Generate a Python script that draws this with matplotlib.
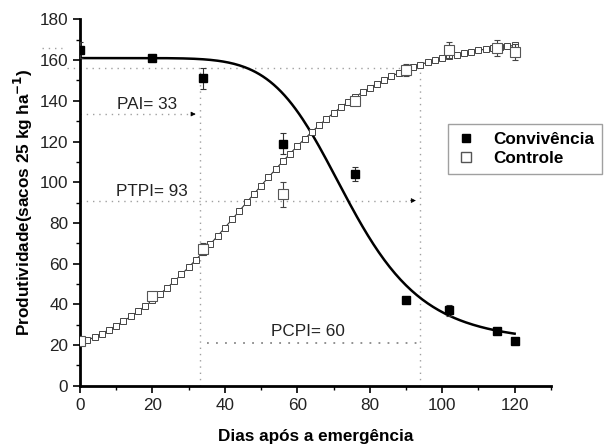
import numpy as np
import matplotlib
matplotlib.use("Agg")
import matplotlib.pyplot as plt

plt.rcParams['font.family'] = ['Liberation Sans', 'DejaVu Sans']

# Observed data
dias = [0, 20, 34, 56, 76, 90, 102, 115, 120]
conv = [165, 161, 151, 119, 104, 42, 37, 27, 22]
conv_err = [4, 1, 5, 5, 3.5, 1.5, 2.5, 1, 1.5]
ctrl = [22, 44, 67, 94, 140, 155, 165, 166, 164]
ctrl_err = [1, 2, 3, 6, 2, 3, 4, 4, 4]

# Fitted model parameters
conv_fit = dict(A1=161.0, A2=21.0, x0=74.0, p=7.0)      # log-logistic
ctrl_fit = dict(A1=5.0, A2=171.0, x0=45.0, dx=20.0)     # Boltzmann

# Critical periods
PAI, PTPI, PCPI_level = 33, 94, 21
y_pai, y_ptpi, y_top, y_max = 133.5, 91, 156, 166

xfit = np.linspace(0, 120, 241)
yconv = conv_fit['A2'] + (conv_fit['A1'] - conv_fit['A2']) / (1 + (xfit / conv_fit['x0']) ** conv_fit['p'])
xctrl = np.arange(0, 121, 2)
yctrl = ctrl_fit['A2'] + (ctrl_fit['A1'] - ctrl_fit['A2']) / (1 + np.exp((xctrl - ctrl_fit['x0']) / ctrl_fit['dx']))

FS = 12.3

fig = plt.figure(figsize=(6.04, 4.47), dpi=100)
ax = fig.add_axes([0.1325, 0.137, 0.7795, 0.8196])

dot = dict(color='#a0a0a0', lw=1.0, linestyle=(0, (1, 3.5)))
# reference dotted lines
ax.plot([-3.7, PTPI], [y_top, y_top], clip_on=False, **dot)
ax.plot([-10.5, -5], [y_max, y_max], clip_on=False, **dot)
ax.plot([0, PAI - 1], [y_pai, y_pai], **dot)
ax.plot([PAI, PAI], [0, y_top], **dot)
ax.plot([0, PTPI - 1.5], [y_ptpi, y_ptpi], **dot)
ax.plot([PTPI, PTPI], [0, y_top], **dot)
ax.plot([35, PTPI], [PCPI_level, PCPI_level], color='#888888', lw=1.3, linestyle=(0, (1, 4)))
# arrow heads
ax.annotate('', xy=(PAI - 0.3, y_pai), xytext=(PAI - 3, y_pai),
            arrowprops=dict(arrowstyle='-|>', color='black', lw=0.5, mutation_scale=7))
ax.annotate('', xy=(PTPI - 0.5, y_ptpi), xytext=(PTPI - 3.5, y_ptpi),
            arrowprops=dict(arrowstyle='-|>', color='black', lw=0.5, mutation_scale=7))

# fitted curves
ax.plot(xfit, yconv, color='black', lw=1.8, zorder=3)
ax.plot(xctrl, yctrl, color='#333333', lw=0.8, marker='s', markersize=4.0,
        markerfacecolor='white', markeredgecolor='#444444', markeredgewidth=0.7, zorder=3)

# observed points
ax.errorbar(dias, conv, yerr=conv_err, fmt='s', color='black', markersize=6,
            ecolor='#333333', elinewidth=0.8, capsize=2.5, capthick=0.8, zorder=5,
            label='Convivência')
ax.errorbar(dias, ctrl, yerr=ctrl_err, fmt='s', color='#444444', markersize=6.5,
            markerfacecolor='white', markeredgecolor='#555555', markeredgewidth=0.8,
            ecolor='#444444', elinewidth=0.8, capsize=2.5, capthick=0.8, zorder=4,
            label='Controle')

ax.text(18.5, 138, 'PAI= 33', fontsize=FS, ha='center', va='center', color='#222222')
ax.text(19.9, 95.3, 'PTPI= 93', fontsize=FS, ha='center', va='center', color='#222222')
ax.text(63, 26.5, 'PCPI= 60', fontsize=FS, ha='center', va='center', color='#222222')

ax.set_xlim(0, 130)
ax.set_ylim(0, 180)
ax.set_xticks(range(0, 121, 20))
ax.set_xticks(range(10, 131, 10), minor=True)
ax.set_yticks(range(0, 181, 20))
ax.set_yticks(range(10, 181, 10), minor=True)
ax.tick_params(which='major', direction='out', length=5, width=1.2, labelsize=FS,
               colors='black', labelcolor='#222222')
ax.tick_params(which='minor', direction='out', length=3, width=1.0)
for s in ['top', 'right']:
    ax.spines[s].set_visible(False)
for s in ['left', 'bottom']:
    ax.spines[s].set_linewidth(2.0)

ax.set_xlabel('Dias após a emergência', fontsize=FS, fontweight='bold', labelpad=12)
ax.set_ylabel('Produtividade(sacos 25 kg ha$^{\\mathbf{-1}}$)', fontsize=FS, fontweight='bold', labelpad=3)

handles = [plt.Line2D([], [], ls='none', marker='s', color='black', markersize=6),
           plt.Line2D([], [], ls='none', marker='s', markerfacecolor='white',
                      markeredgecolor='#555555', markersize=6.5)]
leg = ax.legend(handles, ['Convivência', 'Controle'], loc='upper left',
                bbox_to_anchor=(0.781, 0.7145), frameon=True, fancybox=False,
                prop=dict(weight='bold', size=FS), handlelength=1.2,
                borderpad=0.45, labelspacing=0.25, handletextpad=1.0, borderaxespad=0)
leg.get_frame().set_edgecolor('#888888')
leg.get_frame().set_linewidth(1.0)

fig.savefig('out.png', dpi=100)
